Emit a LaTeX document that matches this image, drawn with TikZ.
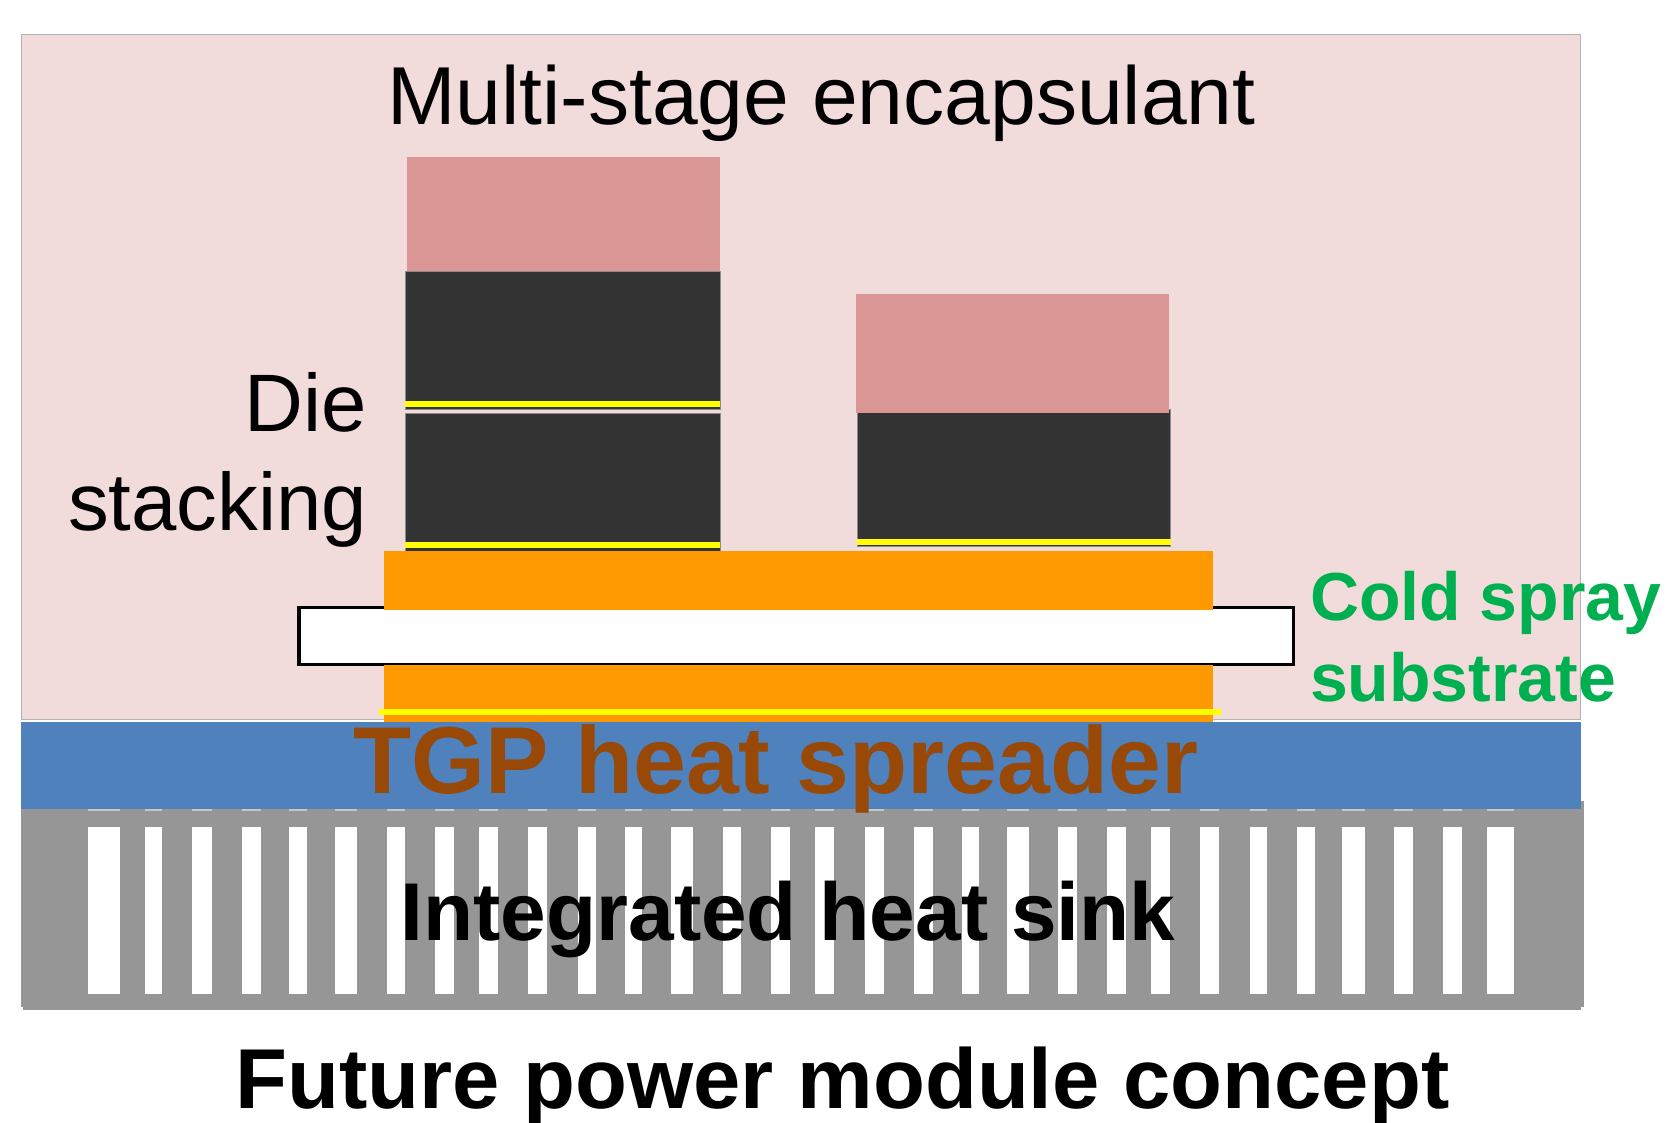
\documentclass[tikz,border=0pt]{standalone}
\usepackage{fontspec}
\setmainfont{Liberation Sans}
\definecolor{encap}{HTML}{F2DCDB}
\definecolor{rosy}{HTML}{D99694}
\definecolor{die}{HTML}{333333}
\definecolor{copper}{HTML}{FF9900}
\definecolor{solder}{HTML}{FFFF00}
\definecolor{tgp}{HTML}{4F81BD}
\definecolor{sink}{HTML}{969696}
\definecolor{tgptext}{HTML}{984807}
\definecolor{spray}{HTML}{00B050}
\tikzset{
  encapbox/.style={fill=encap,draw=black!30,line width=0.8pt},
  rosybox/.style={fill=rosy},
  diebox/.style={fill=die,draw=black!45,line width=0.8pt},
  copperbox/.style={fill=copper},
  solderbar/.style={fill=solder},
  sinkbox/.style={fill=sink},
  finbox/.style={fill=white},
  label/.style={inner sep=0pt,outer sep=0pt,text=black}
}
\begin{document}
\begin{tikzpicture}[x=1pt,y=-1pt]
\useasboundingbox (0,0) rectangle (1673,1123);
\fill[white] (0,0) rectangle (1673,1123);
% encapsulant
\draw[encapbox] (21.4,34.3) rectangle (1580.6,719);
% heat sink
\fill[sinkbox] (21.4,801) rectangle (1584,1007);
\fill[sinkbox] (23,1000) rectangle (1581,1010);
\foreach \a/\b in {87.5/119.5,145.2/161.8,192.3/211.6,241.6/260.9,288.7/306.9,334.8/356.7,387.3/404.9,435/453.7,478.9/498.1,528.2/547.4,577.5/596.2,625.1/642.3,671.2/693.2,723.2/740.8,770.8/790.1,815/834,864.6/883.5,913.6/932.5,961.5/978.7,1007.1/1028.8,1057.8/1076.7,1106.8/1126.3,1151.3/1170.3,1200.3/1219.3,1249.9/1267.2,1297.2/1314.5,1341.8/1365.1,1394.1/1413,1443.1/1462,1487.1/1514.4}{
  \fill[finbox] (\a,827.3) rectangle (\b,994);
  \fill[black!22] (\a,808) rectangle (\b,811);
}
% TGP
\fill[tgp] (21.4,722.3) rectangle (1580.6,809);
% left stack
\fill[rosybox] (406.7,156.7) rectangle (719.5,271);
\draw[diebox] (405,271) rectangle (720,409);
\draw[diebox] (405,413.7) rectangle (720,551.3);
\fill[solderbar] (405,400.7) rectangle (720,406.7);
\fill[solderbar] (405,541.7) rectangle (720,547.7);
% right stack
\draw[diebox] (857.3,409) rectangle (1170.7,546.3);
\fill[rosybox] (855.7,294.4) rectangle (1169,413.3);
\fill[solderbar] (857.3,538.7) rectangle (1170.7,544.7);
% substrate and copper
\draw[fill=white,line width=3.3pt] (299,607.3) rectangle (1293.4,664.4);
\fill[copperbox] (384,551.3) rectangle (1213.3,610);
\fill[copperbox] (384,665) rectangle (1213.3,721.7);
\fill[solderbar] (379.3,709.3) rectangle (1221.3,715.3);
% text
\node[label,anchor=base] (title) at (821.5,124.3) {\fontsize{82.2}{90}\selectfont Multi-stage encapsulant};
\node[label,anchor=base east] (die1) at (367,431) {\fontsize{81.5}{90}\selectfont Die};
\node[label,anchor=base east] (die2) at (367,530) {\fontsize{81.5}{90}\selectfont stacking};
\node[label,anchor=base west,text=spray] (cold1) at (1310,620.5) {\fontsize{68}{75}\selectfont\bfseries Cold spray};
\node[label,anchor=base west,text=spray] (cold2) at (1310,701.5) {\fontsize{68}{75}\selectfont\bfseries substrate};
\node[label,anchor=base,text=tgptext] (tgpname) at (776,793) {\fontsize{95}{100}\selectfont\bfseries TGP heat spreader};
\node[label,anchor=base] (sinkname) at (788,940) {\fontsize{82}{90}\selectfont\bfseries Integrated heat sink};
\node[label,anchor=base] (caption) at (842.5,1108) {\fontsize{85}{90}\selectfont\bfseries Future power module concept};
\end{tikzpicture}
\end{document}
